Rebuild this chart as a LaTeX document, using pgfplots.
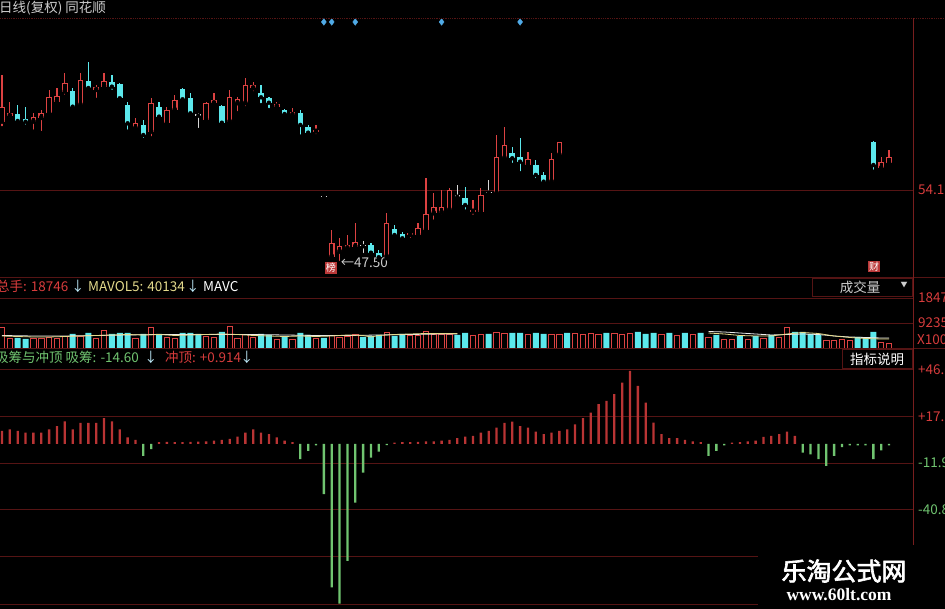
\documentclass[border=0pt]{standalone}
\usepackage{pgfplots}
\usepackage{pgfplotstable}
\pgfplotsset{compat=1.18}
\usepackage{fontspec}
\setmainfont{Noto Sans CJK SC}
\newfontfamily\wmcjk[FakeBold=2.5]{Noto Sans CJK SC}
\newfontfamily\wmserif{Liberation Serif}
\definecolor{candred}{RGB}{220,66,66}
\definecolor{candcyan}{RGB}{92,232,236}
\definecolor{dojiw}{RGB}{215,215,215}
\definecolor{gridred}{RGB}{85,20,20}
\definecolor{axisred}{RGB}{120,30,30}
\definecolor{indred}{RGB}{185,52,52}
\definecolor{indgreen}{RGB}{112,196,112}
\definecolor{lblred}{RGB}{215,60,60}
\definecolor{mayellow}{RGB}{228,218,140}
\definecolor{mawhite}{RGB}{235,235,235}
\definecolor{dblue}{RGB}{80,170,230}
\definecolor{arrowc}{RGB}{190,235,250}
\definecolor{txtgray}{RGB}{205,205,205}

% ---------- candles (price) ----------
\pgfplotstableread{
i lo hi low high
0 60.27 61.63 59.70 64.50
1 60.79 61.06 60.43 62.08
4 60.27 60.73 59.37 61.09
5 60.61 61.06 59.25 61.33
6 61.03 62.53 60.73 63.14
7 62.08 62.60 61.78 63.32
8 62.99 63.77 62.53 64.70
10 61.78 64.04 61.63 64.68
12 63.14 63.44 62.24 63.59
13 63.44 63.98 63.29 64.68
17 59.68 60.18 59.52 60.58
19 59.37 61.94 58.77 62.39
21 60.13 61.33 59.98 61.63
22 61.33 62.24 61.18 62.69
26 60.43 61.94 60.27 62.08
27 61.94 62.24 61.63 62.84
29 60.27 62.53 60.13 63.14
30 61.94 62.30 61.03 62.53
31 61.94 63.59 61.49 64.20
32 63.29 63.59 62.84 63.89
35 61.63 61.87 61.33 62.08
37 60.88 61.18 60.58 61.49
40 59.37 59.52 58.98 59.98
42 48.07 49.28 48.05 50.48
43 48.52 49.04 47.50 49.73
44 48.83 49.13 48.52 50.03
45 48.97 49.43 48.83 51.09
49 48.07 51.14 47.93 51.99
52 50.03 50.19 49.58 50.28
53 50.03 50.64 49.73 51.09
54 50.48 51.93 50.33 55.16
55 51.99 52.59 51.23 53.80
56 52.05 52.54 51.69 54.10
57 52.29 54.10 51.99 54.25
60 52.14 52.29 51.69 53.20
61 52.14 53.65 51.99 54.25
63 53.80 57.11 53.74 59.07
64 56.97 58.17 56.81 59.82
67 56.36 56.88 56.21 57.56
70 54.85 56.88 54.78 57.42
71 57.26 58.47 57.17 58.47
112 56.06 56.66 55.91 57.11
113 56.51 57.11 56.21 57.72
}\upc
\pgfplotstableread{
i lo hi low high
2 60.34 60.97 60.13 61.78
3 60.27 60.52 59.82 61.63
9 61.63 63.08 61.49 63.32
11 63.32 63.98 63.14 65.70
14 63.44 63.84 62.99 64.50
15 62.39 63.66 62.24 63.77
16 60.13 61.78 59.37 62.08
18 59.07 59.98 58.62 60.43
20 60.73 61.63 60.43 62.08
23 62.30 63.20 62.08 63.29
24 61.03 62.39 60.88 62.84
28 60.18 61.69 60.07 61.78
33 62.48 62.90 61.78 63.59
34 61.99 62.39 61.33 62.53
36 60.97 61.33 60.88 61.40
38 59.98 61.09 58.92 61.33
39 59.28 59.82 59.07 59.98
47 48.43 49.13 48.22 49.28
48 48.02 48.43 47.77 48.68
50 50.03 50.55 49.73 50.94
51 49.73 50.10 49.52 50.28
59 52.74 53.35 52.14 54.40
65 56.97 57.42 56.36 58.01
66 56.66 57.06 55.61 58.77
68 55.46 56.36 55.00 56.81
69 54.85 55.46 54.55 55.75
111 56.36 58.47 55.75 58.56
}\dnc
\pgfplotstableread{
i lo hi low high
25 60.82 60.94 59.52 61.03
41 53.43 53.52 53.43 53.52
46 49.01 49.10 48.22 49.52
58 53.49 53.65 53.20 54.55
62 53.86 53.95 53.65 55.00
}\dojic
\pgfplotstableread{
i p
41 69.29
42 69.29
45 69.29
56 69.29
66 69.29
}\diam

% ---------- volume ----------
\pgfplotstableread{
i v
0 7757
1 3694
4 3694
5 3694
6 4063
7 3694
8 4433
10 4433
12 3694
13 6649
17 3694
19 7757
21 4063
22 3694
26 4433
27 4063
29 8127
30 3694
31 5172
32 4063
35 3325
37 3325
40 3694
42 4802
43 4063
44 4433
45 5172
49 5910
52 4802
53 4802
54 6280
55 5172
56 5172
57 5172
60 4802
61 5172
63 5910
64 5541
67 5172
70 5172
71 5172
73 5541
74 5172
75 5541
76 5172
78 5541
79 5172
80 5541
84 5172
86 4802
88 5172
90 4063
92 3325
93 3325
95 3325
97 3694
99 4063
100 7757
105 2955
106 2955
107 3325
108 2955
112 2216
113 1847
}\volup
\pgfplotstableread{
i v
2 3694
3 3325
9 5172
11 5541
14 5172
15 5541
16 5541
18 5172
20 5172
23 5541
24 5541
25 5172
28 5910
33 5172
34 4802
36 4433
38 5541
39 4802
41 3694
46 4063
47 4433
48 4802
50 4433
51 5172
58 4802
59 5541
62 5172
65 5541
66 5541
68 5541
69 5172
72 5541
77 5541
81 5910
82 5172
83 5541
85 5541
87 5541
89 5541
91 4802
94 4433
96 4433
98 4802
101 5910
102 5910
103 5172
104 4802
109 4063
110 3694
111 5910
}\voldn
\pgfplotstableread{
i v
0 4433
2 4248
4 4063
6 4063
8 4248
10 4433
12 4618
14 4802
16 4987
18 4802
20 4987
22 4618
24 4802
26 4987
28 5172
30 4987
32 4618
34 4433
36 4248
38 4433
40 4248
42 4433
44 4802
46 4618
47 4063
48 4618
50 4987
52 5172
54 5356
56 5356
58 5356
}\mayl
\pgfplotstableread{
i v
0 4618
4 4433
8 4433
12 4618
16 4802
20 4987
24 4987
28 4987
32 4987
36 4802
40 4618
44 4618
48 4802
52 4987
56 5172
58 5172
}\mawl
\pgfplotstableread{
i v
90 6095
92 5910
94 5541
96 5172
98 4802
100 4987
102 5172
104 4987
106 4433
108 4063
110 3879
112 3694
113 3694
}\mawr
\pgfplotstableread{
i v
90 5541
92 5172
94 4618
96 4433
98 4433
100 5172
102 5726
104 5356
106 4433
108 3879
110 3509
112 3325
113 3325
}\mayr

% ---------- indicator ----------
\pgfplotstableread{
i v
0 8
1 9
2 8
3 7
4 7
5 7
6 9
7 11
8 14
9 9
10 13
11 13
12 13
13 16
14 14
15 9
16 4
17 2.5
20 1
21 1.2
22 1
23 1
24 1.2
25 1.4
26 1.6
27 2
28 2.5
29 3
30 4.5
31 7
32 9
33 7
34 6
35 4
36 2
37 1
50 0.8
51 1
52 1
53 1.2
54 1.5
55 1.5
56 2
57 2.5
58 3.5
59 4.5
60 5
61 7
62 8
63 10
64 13
65 13.7
66 11
67 10
68 7.6
69 6
70 7
71 8
72 9
73 12
74 16
75 19.4
76 24.6
77 26.7
78 30.8
79 38
80 45.3
81 36
82 25.6
83 13.2
84 6
85 3.5
86 3.5
87 2.5
88 1.5
89 1
93 0.8
94 1
95 1.5
96 2
97 4.3
98 5
99 6
100 7.6
101 5
}\indpos
\pgfplotstableread{
i v
18 -7.4
19 -3.3
38 -9.5
39 -4.3
40 -1
41 -31.2
42 -89
43 -99
44 -72.5
45 -36.4
46 -17.8
47 -8.5
48 -4.8
49 -0.8
90 -7.4
91 -4.3
92 -1
102 -5.4
103 -6.5
104 -9.5
105 -13.6
106 -7.4
107 -2
108 -1
109 -1
110 -1
111 -9.5
112 -4
113 -1
}\indneg

\pgfplotsset{
  panel/.style={scale only axis, width=913pt, xmin=-0.2548, xmax=116.05,
    xtick=\empty, axis line style={draw=none},
    ytick pos=right, yticklabel pos=right,
    ytick style={draw=none}, major tick length=0pt,
    yticklabel style={font=\fontsize{13.5}{15}\selectfont, text=lblred, anchor=west, inner sep=0pt, xshift=5pt},
    scaled y ticks=false,
    ymajorgrids, grid style={gridred, line width=0.8pt},
    anchor=south west, clip=true},
  wick/.style={only marks, mark=none, forget plot,
    error bars/.cd, y dir=plus, y explicit, error mark=none,
    error bar style={draw=#1, line width=1.2pt, solid}},
  body/.style 2 args={only marks, mark=none, forget plot,
    error bars/.cd, y dir=plus, y explicit, error mark=none,
    error bar style={draw=#1, line width=#2, solid}},
}

\begin{document}
\begin{tikzpicture}[x=1pt,y=1pt]
\useasboundingbox (0,0) rectangle (945,609);
\clip (0,0) rectangle (945,609);
\fill[black] (0,0) rectangle (945,609);

% ===== price panel =====
\begin{axis}[panel, at={(0pt,332pt)}, height=259pt,
  ymin=46.235, ymax=69.65, ytick={54.1}, yticklabels={54.10}]
  % wicks
  \addplot[wick=candred] table[x=i, y=low, y error expr={\thisrow{high}-\thisrow{low}}] \upc;
  \addplot[wick=candcyan] table[x=i, y=low, y error expr={\thisrow{high}-\thisrow{low}}] \dnc;
  \addplot[wick=dojiw] table[x=i, y=low, y error expr={\thisrow{high}-\thisrow{low}}] \dojic;
  % bodies
  \addplot[body={candred}{5.6pt}] table[x=i, y=lo, y error expr={\thisrow{hi}-\thisrow{lo}}] \upc;
  \addplot[body={black}{3.4pt}] table[x=i, y expr={\thisrow{lo}+0.09}, y error expr={max(\thisrow{hi}-\thisrow{lo}-0.18,0)}] \upc;
  \addplot[body={candcyan}{5.6pt}] table[x=i, y=lo, y error expr={\thisrow{hi}-\thisrow{lo}}] \dnc;
  \addplot[body={dojiw}{5.6pt}] table[x=i, y=lo, y error expr={\thisrow{hi}-\thisrow{lo}}] \dojic;
  % diamonds
  \addplot[only marks, mark=diamond*, mark size=3.3pt, color=dblue] table[x=i, y=p] \diam;
  % annotations
  \node[fill=candred!85!black, text=white, inner sep=1pt, font=\fontsize{10}{10}\selectfont] at (axis cs:41.9,47.05) {榜};
  \node[anchor=west, text=txtgray, inner sep=0pt, font=\fontsize{13.5}{15}\selectfont] at (axis cs:43.1,47.5) {←47.50};
  \node[fill=candred!85!black, text=white, inner sep=1pt, font=\fontsize{10}{10}\selectfont] at (axis cs:111.1,47.2) {财};
\end{axis}

% ===== volume panel =====
\begin{axis}[panel, at={(0pt,261pt)}, height=71pt,
  ymin=0, ymax=26227, ytick={9235,18470}, yticklabels={9235,18470}]
  \addplot[ybar, bar width=5.4pt, bar shift=0pt, draw=candred, fill=black, line width=0.9pt] table[x=i, y=v] \volup;
  \addplot[ybar, bar width=6pt, bar shift=0pt, draw=none, fill=candcyan] table[x=i, y=v] \voldn;
  \addplot[mawhite, line width=0.8pt] table[x=i, y=v] \mawl;
  \addplot[mayellow, line width=0.8pt] table[x=i, y=v] \mayl;
  \addplot[mawhite, line width=0.8pt] table[x=i, y=v] \mawr;
  \addplot[mayellow, line width=0.8pt] table[x=i, y=v] \mayr;
\end{axis}

% ===== indicator panel =====
\begin{axis}[panel, at={(0pt,4pt)}, height=256pt,
  ymin=-99.9, ymax=58.8, ytick={-69.75,-40.8,-11.85,17.1,46.05},
  yticklabels={,\textcolor{indgreen}{-40.85},\textcolor{indgreen}{-11.90},+17.10,+46.05}]
  \addplot[ybar, bar width=2.3pt, bar shift=0pt, draw=none, fill=indred] table[x=i, y=v] \indpos;
  \addplot[ybar, bar width=2.3pt, bar shift=0pt, draw=none, fill=indgreen] table[x=i, y=v] \indneg;
\end{axis}

% separators and frame lines
\draw[gridred, line width=0.8pt, densely dotted] (0,591) -- (945,591);
\draw[gridred, line width=0.9pt] (0,332) -- (945,332);
\draw[gridred, line width=0.9pt] (0,261) -- (945,261);
\draw[gridred, line width=0.8pt] (0,5) -- (945,5);
\draw[axisred, line width=0.9pt] (913,5) -- (913,591);

% headers
\node[anchor=base west, inner sep=0pt, text=txtgray, font=\fontsize{13.5}{15}\selectfont] at (-1,596) {日线(复权)\ 同花顺};
\node[anchor=base west, inner sep=0pt, text=lblred, font=\fontsize{13.5}{15}\selectfont] at (-4,317) {总手: 18746};
\node[anchor=base west, inner sep=0pt, text=arrowc, font=\fontsize{13.5}{15}\selectfont] at (71,317) {↓};
\node[anchor=base west, inner sep=0pt, text=mayellow, font=\fontsize{13.5}{15}\selectfont] at (88,317) {MAVOL5: 40134};
\node[anchor=base west, inner sep=0pt, text=arrowc, font=\fontsize{13.5}{15}\selectfont] at (186,317) {↓};
\node[anchor=base west, inner sep=0pt, text=white, font=\fontsize{13.5}{15}\selectfont] at (203,317) {MAVC};
\node[anchor=west, inner sep=0pt, text=lblred, font=\fontsize{13.5}{15}\selectfont] at (917,269) {X100};

\node[anchor=base west, inner sep=0pt, text=indgreen, font=\fontsize{13.5}{15}\selectfont] at (-5,246) {吸筹与冲顶 吸筹: -14.60};
\node[anchor=base west, inner sep=0pt, text=arrowc, font=\fontsize{13.5}{15}\selectfont] at (144,246) {↓};
\node[anchor=base west, inner sep=0pt, text=lblred, font=\fontsize{13.5}{15}\selectfont] at (165,246) {冲顶: +0.914};
\node[anchor=base west, inner sep=0pt, text=arrowc, font=\fontsize{13.5}{15}\selectfont] at (240,246) {↓};

% boxes
\fill[black] (812,313) rectangle (912,331);
\draw[gridred, line width=0.9pt] (812,313) rectangle (912,331);
\node[text=txtgray, inner sep=0pt, font=\fontsize{13.5}{15}\selectfont] at (860,322) {成交量};
\node[text=txtgray, inner sep=0pt, font=\fontsize{7}{8}\selectfont] at (904,324) {▼};
\fill[black] (842,241) rectangle (912,260);
\draw[gridred, line width=0.9pt] (842,241) rectangle (912,260);
\node[text=white, inner sep=0pt, font=\fontsize{13.5}{15}\selectfont] at (877,250) {指标说明};

% watermark
\fill[black] (758,0) rectangle (945,64);
\node[text=white, inner sep=0pt, font=\wmcjk\fontsize{25}{27}\selectfont] at (844,38) {乐淘公式网};
\node[text=white, inner sep=0pt, font=\wmserif\bfseries\fontsize{17.5}{19}\selectfont] at (839,14) {www.60lt.com};
\end{tikzpicture}
\end{document}
